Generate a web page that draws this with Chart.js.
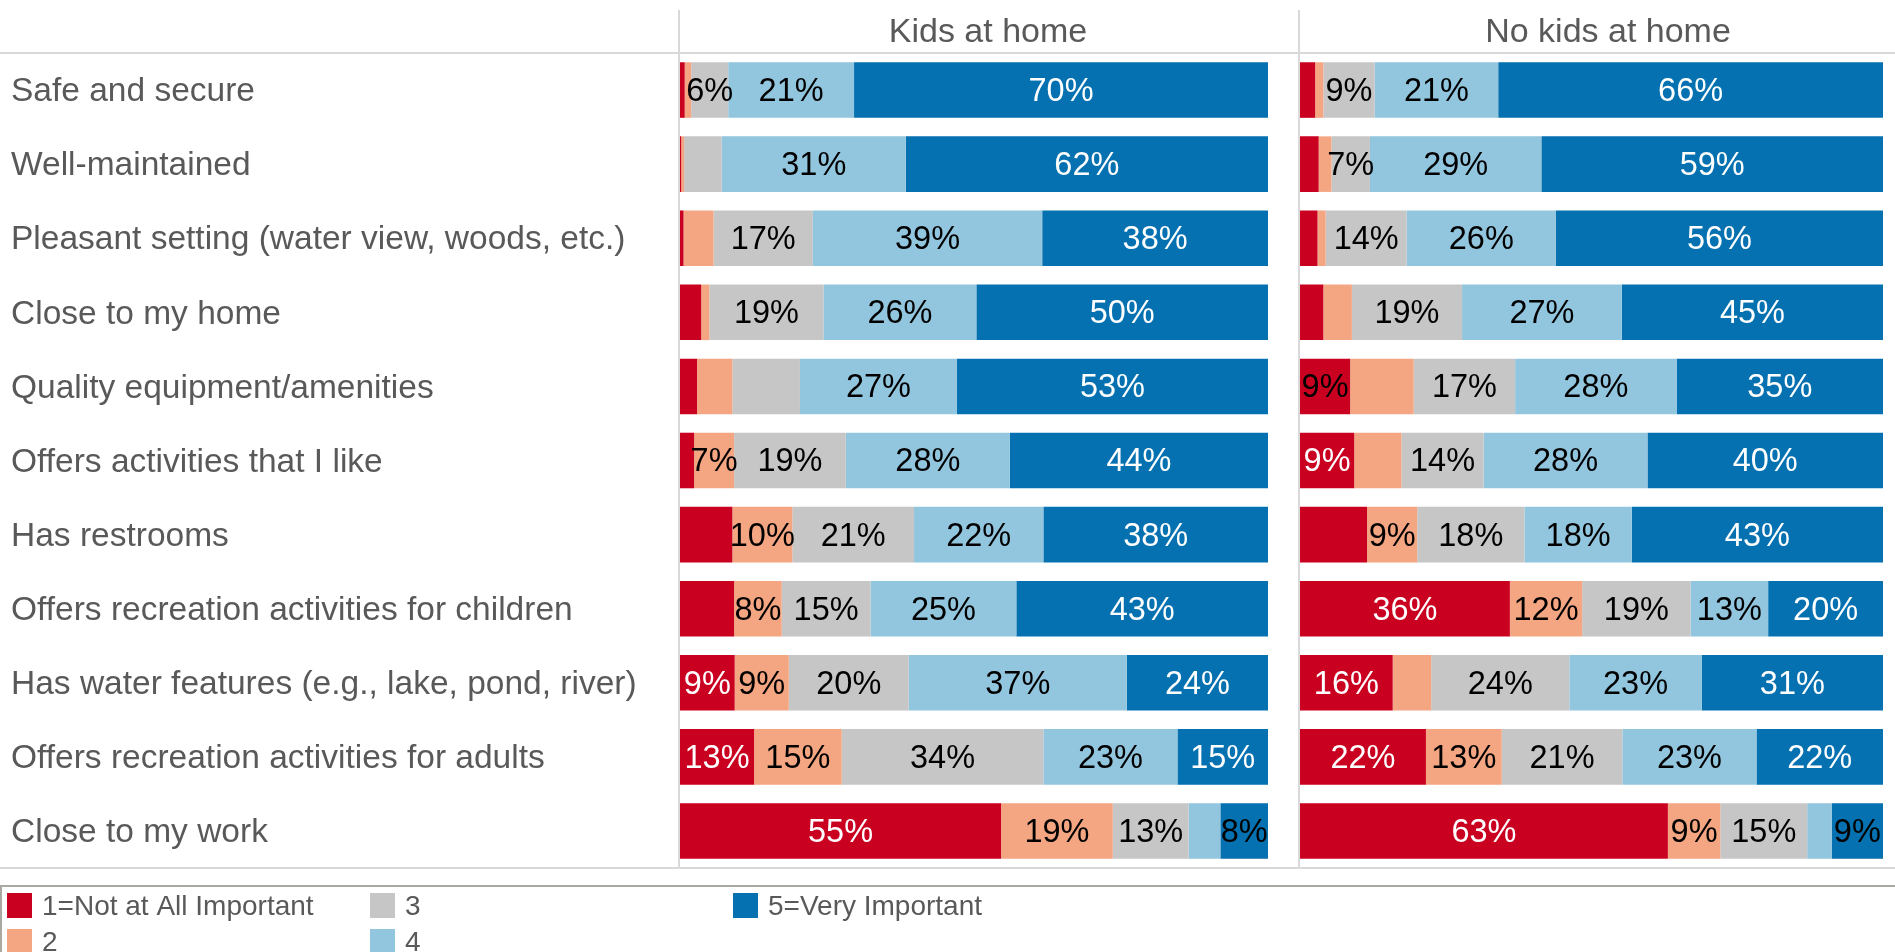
<!DOCTYPE html>
<html>
<head>
<meta charset="utf-8">
<title>Importance of park features</title>
<script src="https://cdn.jsdelivr.net/npm/chart.js@4.4.1/dist/chart.umd.min.js"></script>
<style>
  html, body { margin: 0; padding: 0; background: #fff; }
  #wrap { position: relative; width: 1895px; height: 952px; overflow: hidden; }
  #wrap canvas { position: absolute; top: 0; }
  #kids { left: 0; }
  #nokids { left: 1298px; }
</style>
</head>
<body>
<div id="wrap">
  <canvas id="kids" width="1298" height="952"></canvas>
  <canvas id="nokids" width="597" height="952"></canvas>
</div>
<script>
// categories (top to bottom)
const categories = [
    'Safe and secure',
    'Well-maintained',
    'Pleasant setting (water view, woods, etc.)',
    'Close to my home',
    'Quality equipment/amenities',
    'Offers activities that I like',
    'Has restrooms',
    'Offers recreation activities for children',
    'Has water features (e.g., lake, pond, river)',
    'Offers recreation activities for adults',
    'Close to my work'
];
const ratingLabels = ['1=Not at All Important', '2', '3', '4', '5=Very Important'];
const ratingColors = ['#CA0020', '#F4A582', '#C6C6C6', '#92C5DE', '#0571B0'];
const panelTitles = ['Kids at home', 'No kids at home'];

// Kids at home (% of respondents)
const kids1 = [0.8, 0.2, 0.6, 3.6, 2.9, 2.4, 8.9, 9.2, 9.3, 12.6, 54.6];
const kids2 = [1.1, 0.5, 5.1, 1.4, 6.0, 6.8, 10.2, 8.1, 9.2, 14.9, 19.0];
const kids3 = [6.3, 6.4, 16.9, 19.4, 11.5, 19.0, 20.7, 15.1, 20.4, 34.3, 12.9];
const kids4 = [21.4, 31.3, 39.0, 26.0, 26.7, 27.9, 22.0, 24.8, 37.1, 22.8, 5.4];
const kids5 = [70.4, 61.6, 38.4, 49.6, 52.9, 43.9, 38.2, 42.8, 24.0, 15.4, 8.1];

// No kids at home
const noKids1 = [2.6, 3.2, 3.0, 4.0, 8.6, 9.3, 11.5, 36.0, 15.9, 21.6, 63.1];
const noKids2 = [1.4, 2.2, 1.4, 4.9, 10.9, 8.1, 8.6, 12.4, 6.6, 13.0, 9.0];
const noKids3 = [8.8, 6.6, 13.9, 18.9, 17.4, 14.1, 18.4, 18.6, 23.7, 20.7, 14.9];
const noKids4 = [21.2, 29.4, 25.6, 27.4, 27.7, 28.1, 18.4, 13.3, 22.7, 23.0, 4.2];
const noKids5 = [66.0, 58.6, 56.1, 44.8, 35.4, 40.4, 43.1, 19.7, 31.1, 21.7, 8.8];

// segments without a value label: [series, row]
const kidsNoLabel = [[0,0],[1,0],[0,1],[1,1],[2,1],[0,2],[1,2],[0,3],[1,3],[0,4],[1,4],[2,4],[0,5],[0,6],[0,7],[3,10]];
const noKidsNoLabel = [[0,0],[1,0],[0,1],[1,1],[0,2],[1,2],[0,3],[1,3],[1,4],[1,5],[0,6],[1,8],[3,10]];

const FONT = '"Liberation Sans", Arial, Helvetica, sans-serif';
Chart.defaults.font.family = FONT;

function makeDatasets(series) {
    return series.map((vals, i) => ({
        label: ratingLabels[i],
        data: vals,
        backgroundColor: ratingColors[i],
        borderWidth: 0,
        categoryPercentage: 1,
        barPercentage: 0.75
    }));
}

// grid lines + panel header
const panelDecor = {
    id: 'panelDecor',
    beforeDatasetsDraw(chart, args, opts) {
        const ctx = chart.ctx;
        ctx.save();
        ctx.strokeStyle = '#d9d9d9';
        ctx.lineWidth = 2;
        ctx.beginPath();
        ctx.moveTo(0, 53); ctx.lineTo(chart.width, 53);
        ctx.moveTo(0, 868); ctx.lineTo(chart.width, 868);
        ctx.moveTo(opts.sepX, 10); ctx.lineTo(opts.sepX, 868);
        ctx.stroke();

        ctx.fillStyle = '#595959';
        ctx.font = '34px ' + FONT;
        ctx.textAlign = 'center';
        ctx.textBaseline = 'alphabetic';
        ctx.fillText(opts.title, opts.titleX, 42);
        ctx.restore();
    }
};

// percentage labels inside the segments
const barLabels = {
    id: 'barLabels',
    afterDatasetsDraw(chart, args, opts) {
        const ctx = chart.ctx;
        const skip = new Set(opts.hidden.map(p => p[0] + ':' + p[1]));
        ctx.save();
        ctx.font = '32.5px ' + FONT;
        ctx.textAlign = 'center';
        ctx.textBaseline = 'middle';
        chart.data.datasets.forEach((ds, i) => {
            chart.getDatasetMeta(i).data.forEach((bar, j) => {
                if (skip.has(i + ':' + j)) return;
                const txt = Math.round(ds.data[j]) + '%';
                const w = Math.abs(bar.x - bar.base);
                const tw = ctx.measureText(txt).width;
                const dark = (i === 0 || i === 4) && w >= tw + 6;
                ctx.fillStyle = dark ? '#ffffff' : '#000000';
                ctx.fillText(txt, (bar.x + bar.base) / 2, bar.y + 2);
            });
        });
        ctx.restore();
    }
};

// legend box under the chart, items filled column by column
const legendBox = {
    id: 'legendBox',
    afterDraw(chart, args, opts) {
        const ctx = chart.ctx;
        ctx.save();
        ctx.strokeStyle = '#aaa9a1';
        ctx.lineWidth = 2;
        ctx.beginPath();
        ctx.moveTo(0, 886); ctx.lineTo(chart.width, 886);
        if (opts.items) { ctx.moveTo(1, 886); ctx.lineTo(1, 952); }
        ctx.stroke();
        if (opts.items) {
            ctx.font = '28px ' + FONT;
            ctx.textAlign = 'left';
            ctx.textBaseline = 'middle';
            chart.data.datasets.forEach((ds, i) => {
                const sx = 7 + Math.floor(i / 2) * 363;
                const sy = 893 + (i % 2) * 36;
                ctx.fillStyle = ds.backgroundColor;
                ctx.fillRect(sx, sy, 25, 25);
                ctx.fillStyle = '#595959';
                ctx.fillText(ds.label, sx + 35, sy + 14);
            });
        }
        ctx.restore();
    }
};

function panelOptions(showCats, pad, decor, hidden, legendItems) {
    return {
        indexAxis: 'y',
        responsive: false,
        animation: false,
        devicePixelRatio: 1,
        layout: { padding: pad },
        scales: {
            x: { stacked: true, min: 0, max: 100, display: false },
            y: {
                stacked: true,
                display: showCats,
                grid: { display: false },
                border: { display: false },
                ticks: {
                    color: '#595959',
                    font: { size: 33.5 },
                    crossAlign: 'far',
                    padding: 0,
                    labelOffset: 2,
                    autoSkip: false
                },
                afterFit(scale) { if (showCats) scale.width = 669; }
            }
        },
        plugins: {
            legend: { display: false },
            tooltip: { enabled: false },
            panelDecor: decor,
            barLabels: { hidden: hidden },
            legendBox: { items: legendItems }
        }
    };
}

new Chart(document.getElementById('kids'), {
    type: 'bar',
    data: {
        labels: categories,
        datasets: makeDatasets([kids1, kids2, kids3, kids4, kids5])
    },
    options: panelOptions(true, { left: 11, right: 30, top: 53, bottom: 84 },
        { title: panelTitles[0], titleX: 988, sepX: 679 }, kidsNoLabel, true),
    plugins: [panelDecor, barLabels, legendBox]
});

new Chart(document.getElementById('nokids'), {
    type: 'bar',
    data: {
        labels: categories,
        datasets: makeDatasets([noKids1, noKids2, noKids3, noKids4, noKids5])
    },
    options: panelOptions(false, { left: 2, right: 12, top: 53, bottom: 84 },
        { title: panelTitles[1], titleX: 310, sepX: 1 }, noKidsNoLabel, false),
    plugins: [panelDecor, barLabels, legendBox]
});
</script>
</body>
</html>
